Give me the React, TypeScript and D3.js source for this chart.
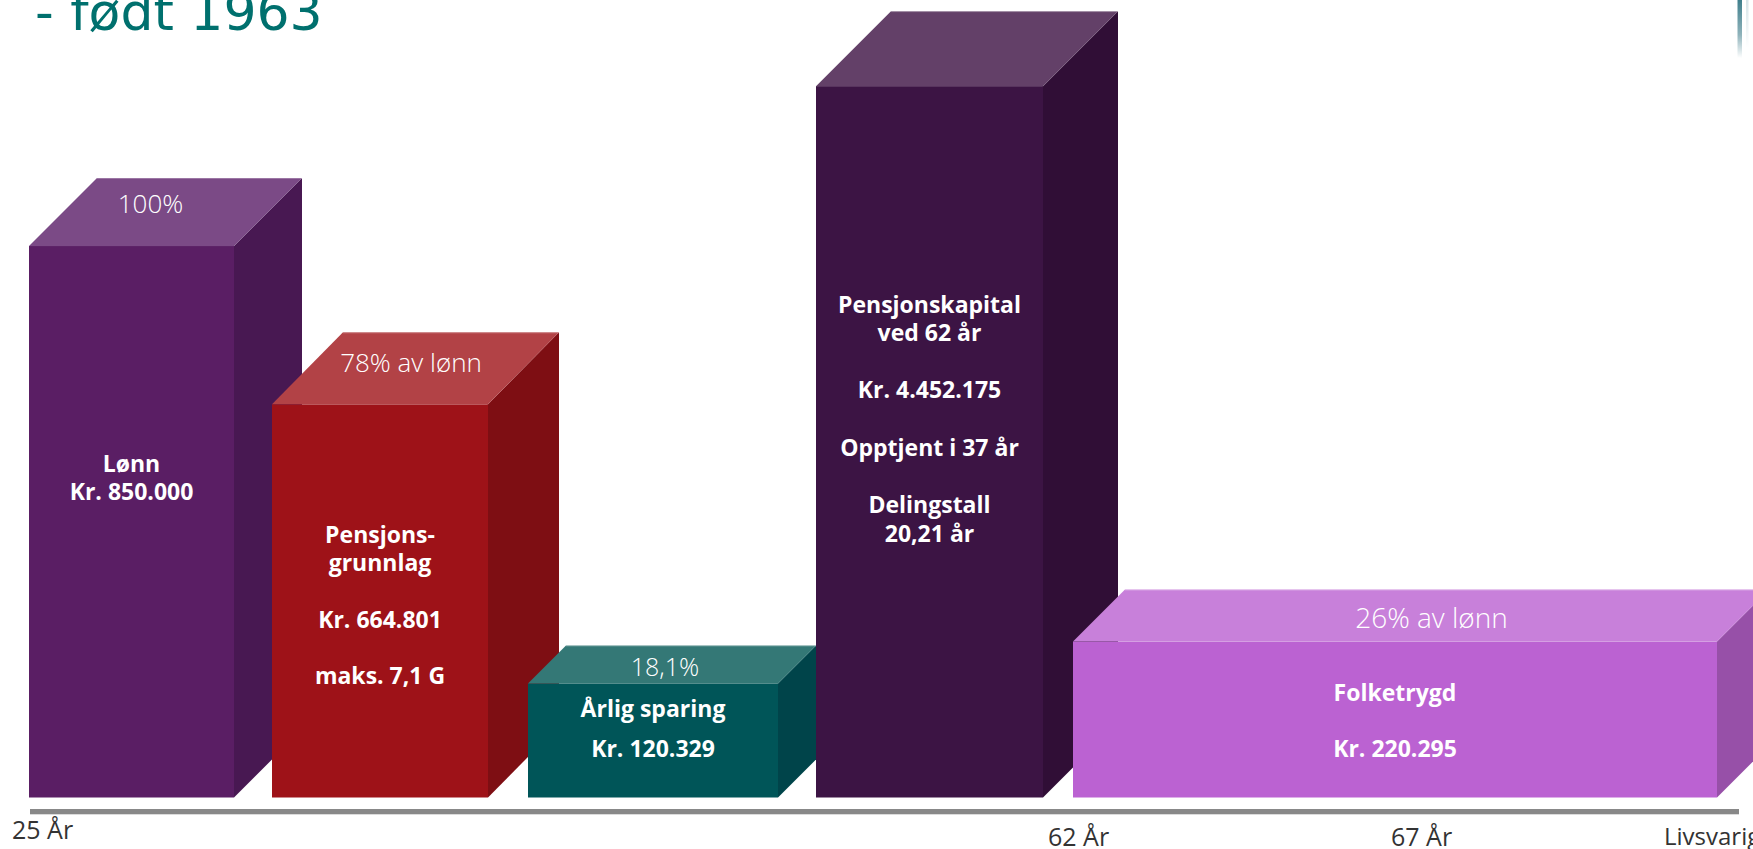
import React from "react";
import * as d3 from "d3";

// ---------- data ----------
const categories = ["Lønn", "Pensjonsgrunnlag", "Årlig sparing", "Pensjonskapital", "Folketrygd"];
const amounts = [850000, 664801, 120329, 4452175, 220295];
const topLabels = ["100%", "78% av lønn", "18,1%", "", "26% av lønn"];
// visual bar height (percent of drawing height)
const barLevels = [69.15, 49.3, 14.3, 89.2, 19.55];
const ageTicks = ["25 År", "62 År", "67 År", "Livsvarig"];
const titleText = "- født 1963";

const nok = d3.formatLocale({ decimal: ",", thousands: ".", grouping: [3], currency: ["", ""] });
const fmt = nok.format(",d");

const innerLines: string[][] = [
  ["Lønn", "Kr. " + fmt(amounts[0])],
  ["Pensjons-", "grunnlag", "", "Kr. " + fmt(amounts[1]), "", "maks. 7,1 G"],
  ["Årlig sparing", "Kr. " + fmt(amounts[2])],
  ["Pensjonskapital", "ved 62 år", "", "Kr. " + fmt(amounts[3]), "", "Opptjent i 37 år", "", "Delingstall", "20,21 år"],
  ["Folketrygd", "", "Kr. " + fmt(amounts[4])],
];

// ---------- layout / style ----------
const W = 1753;
const H = 849;
const BASE_Y = 797.5;
const barX = [29, 272, 528, 816, 1073];
const barW = [205, 216, 250, 227, 644];
const depthX = [68, 71, 38, 75, 52];
const depthY = [68, 72, 38, 75, 52];
const frontColors = ["#5a1e64", "#9e1218", "#005558", "#3c1444", "#bb62d2"];
const topColors = ["#7b4a86", "#b24246", "#347876", "#634068", "#c880da"];
const sideColors = ["#481852", "#7e0e13", "#00444a", "#300e36", "#9750a8"];
const topLabelDx = [19, 31, 12, 0, 36.5];
const topLabelDy = [-33, -32, -7, 0, -14];
const topLabelSize = [26, 26, 25, 26, 28];
const innerFirstBaseline = [472, 542.7, 716.7, 312.5, 700.7];
const innerLineHeight = [28, 28.3, 40.6, 28.65, 28.3];
const tickX = [12, 1048, 1391, 1664];
const tickBaseline = [839, 846, 846, 845];
const tickSize = [25, 25, 25, 24];

const yScale = d3.scaleLinear().domain([0, 100]).range([BASE_Y, 0]);

const FONT = "'Open Sans', 'Noto Sans', 'DejaVu Sans', sans-serif";

export default function App() {
  React.useEffect(() => {
    document.body.style.margin = "0";
  }, []);

  return (
    <svg
      width={W}
      height={H}
      viewBox={`0 0 ${W} ${H}`}
      style={{ display: "block", position: "absolute", left: 0, top: 0, background: "#fff" }}
    >
      <defs>
        <linearGradient id="cornerGrad" x1="0" y1="0" x2="0" y2="1">
          <stop offset="0" stopColor="#3f7f8c" />
          <stop offset="0.6" stopColor="#8fb3bb" />
          <stop offset="1" stopColor="#ffffff" />
        </linearGradient>
        <linearGradient id="cornerGrad2" x1="0" y1="0" x2="0" y2="1">
          <stop offset="0" stopColor="#d6e4e8" />
          <stop offset="1" stopColor="#ffffff" />
        </linearGradient>
      </defs>
      <rect x={0} y={0} width={W} height={H} fill="#ffffff" />

      {/* title (cut at the top edge) */}
      <text x={35} y={30} fontFamily="'DejaVu Sans', Verdana, sans-serif" fontSize={52} fill="#00706e">
        {titleText}
      </text>

      {/* corner decoration */}
      <rect x={1737.5} y={0} width={4.5} height={58} fill="url(#cornerGrad)" />
      <rect x={1746} y={0} width={2.5} height={48} fill="url(#cornerGrad2)" />

      {/* bars */}
      {categories.map((c, i) => {
        const x = barX[i];
        const w = barW[i];
        const top = yScale(barLevels[i]);
        const base = yScale(0);
        const dx = depthX[i];
        const dy = depthY[i];
        const topPts = [
          [x, top],
          [x + dx, top - dy],
          [x + w + dx, top - dy],
          [x + w, top],
        ];
        const sidePts = [
          [x + w, top],
          [x + w + dx, top - dy],
          [x + w + dx, base - dy],
          [x + w, base],
        ];
        const cx = x + w / 2;
        return (
          <g key={c}>
            <rect x={x} y={top} width={w} height={base - top} fill={frontColors[i]} />
            <polygon points={sidePts.map((p) => p.join(",")).join(" ")} fill={sideColors[i]} />
            <polygon points={topPts.map((p) => p.join(",")).join(" ")} fill={topColors[i]} />
            <line x1={x + dx} y1={top - dy + 0.5} x2={x + w + dx} y2={top - dy + 0.5} stroke="#ffffff" strokeOpacity={0.25} strokeWidth={1} />
            {topLabels[i] && (
              <text
                x={cx + topLabelDx[i]}
                y={top + topLabelDy[i]}
                textAnchor="middle"
                fontFamily={FONT}
                fontWeight={300}
                fontSize={topLabelSize[i]}
                fill="#ffffff"
              >
                {topLabels[i]}
              </text>
            )}
            {innerLines[i].map((ln, j) =>
              ln ? (
                <text
                  key={j}
                  x={cx}
                  y={innerFirstBaseline[i] + j * innerLineHeight[i]}
                  textAnchor="middle"
                  fontFamily={FONT}
                  fontWeight={700}
                  fontSize={23}
                  fill="#ffffff"
                >
                  {ln}
                </text>
              ) : null
            )}
          </g>
        );
      })}

      {/* axis line */}
      <rect x={30} y={809} width={1709} height={5.3} fill="#888888" />
      {ageTicks.map((t, i) => (
        <text key={t} x={tickX[i]} y={tickBaseline[i]} fontFamily={FONT} fontSize={tickSize[i]} fill="#333333">
          {t}
        </text>
      ))}
    </svg>
  );
}
